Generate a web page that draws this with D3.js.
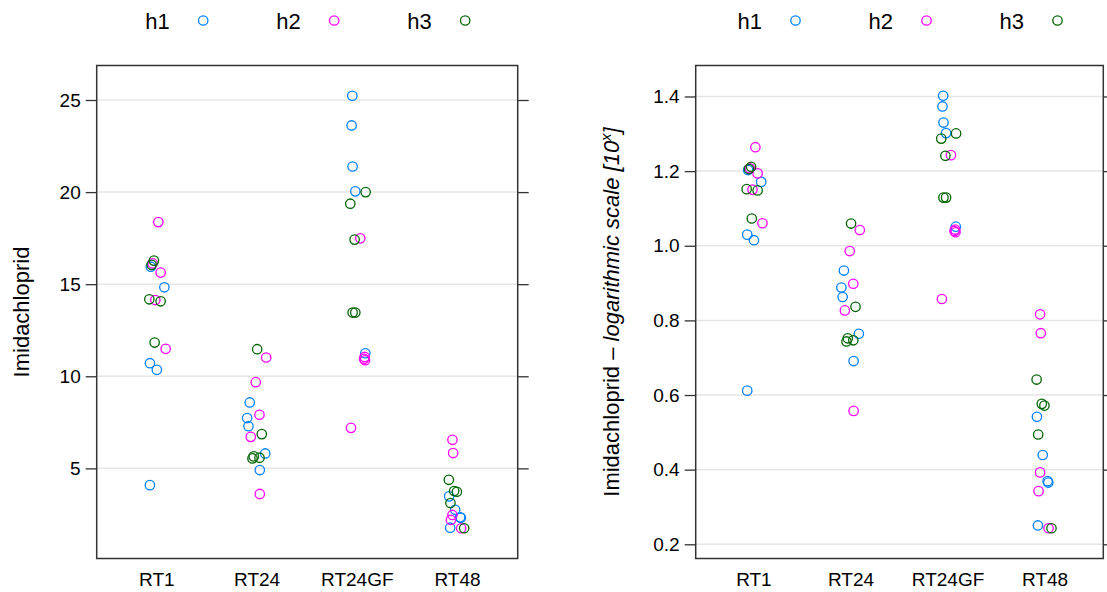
<!doctype html>
<html>
<head>
<meta charset="utf-8">
<title>Imidachloprid strip plots</title>
<script src="https://d3js.org/d3.v7.min.js"></script>
<style>
body { margin: 0; background: #fff; }
text { font-family: "Liberation Sans", Arial, Helvetica, sans-serif; }
</style>
</head>
<body>
<svg width="1107" height="592"></svg>
<script>
// data (right panel shows log10 of the same values)
var categories = ["RT1", "RT24", "RT24GF", "RT48"]
var groups = ["h1", "h2", "h3"]
var colors = ["#0080ff", "#ff00ff", "#006400"]

// one row per category, 5 replicates each
var h1Values = [
    [15.95, 14.83, 10.71, 10.35, 4.09],
    [8.58, 7.73, 7.29, 5.81, 4.91],
    [25.23, 23.62, 21.39, 20.04, 11.25],
    [3.48, 2.75, 2.34, 2.32, 1.78]
]
var h2Values = [
    [18.37, 16.13, 15.63, 14.14, 11.49],
    [11.02, 9.68, 7.91, 6.71, 3.61],
    [17.49, 11.05, 10.95, 10.87, 7.20],
    [6.55, 5.83, 2.47, 2.20, 1.75]
]
var h3Values = [
    [16.28, 16.05, 14.18, 14.07, 11.83],
    [11.47, 6.86, 5.65, 5.58, 5.54],
    [20.0, 19.37, 17.42, 13.46, 13.46],
    [4.38, 3.77, 3.73, 3.12, 1.75]
]

// horizontal jitter, in category units (same in both panels)
var h1Jitter = [
    [-0.06, 0.075, -0.069, 0.0, -0.069],
    [-0.073, -0.099, -0.086, 0.081, 0.027],
    [-0.05, -0.057, -0.047, -0.02, 0.08],
    [-0.084, -0.024, 0.026, 0.033, -0.074]
]
var h2Jitter = [
    [0.015, -0.042, 0.038, -0.015, 0.088],
    [0.091, -0.013, 0.024, -0.063, 0.027],
    [0.03, 0.073, 0.067, 0.077, -0.063],
    [-0.051, -0.044, -0.051, -0.067, 0.036]
]
var h3Jitter = [
    [-0.029, -0.052, -0.075, 0.038, -0.022],
    [0.001, 0.047, -0.033, 0.024, -0.046],
    [0.083, -0.07, -0.027, -0.047, -0.02],
    [-0.087, -0.034, -0.007, -0.071, 0.066]
]

var linearTicks = [5, 10, 15, 20, 25]
var logTicks = [0.2, 0.4, 0.6, 0.8, 1.0, 1.2, 1.4]

var allValues = [h1Values, h2Values, h3Values]
var allJitter = [h1Jitter, h2Jitter, h3Jitter]

var svg = d3.select("svg")
var panel_top = 65.5
var panel_bottom = 558.5
var tick_len = 11

function make_points(transform) {
    var pts = []
    for (var g = 0; g < groups.length; g++) {
        for (var c = 0; c < categories.length; c++) {
            for (var k = 0; k < allValues[g][c].length; k++) {
                pts.push({ group: g, cat: categories[c], v: transform(allValues[g][c][k]), j: allJitter[g][c][k] })
            }
        }
    }
    return pts
}

function panel(x0, x1, points, ticks, fmt) {
    var ext = d3.extent(points, function (d) { return d.v })
    var pad = 0.07 * (ext[1] - ext[0])
    var y = d3.scaleLinear().domain([ext[0] - pad, ext[1] + pad]).range([panel_bottom, panel_top])
    var x = d3.scalePoint().domain(categories).range([x0, x1]).padding(0.6)

    var g = svg.append("g")

    // grid
    g.selectAll(".grid").data(ticks).enter().append("line")
        .attr("x1", x0).attr("x2", x1)
        .attr("y1", function (d) { return y(d) }).attr("y2", function (d) { return y(d) })
        .attr("stroke", "#e6e6e6").attr("stroke-width", 1.5)

    // y axis left with labels, right ticks only
    var left = g.append("g").attr("transform", "translate(" + x0 + ",0)")
        .call(d3.axisLeft(y).tickValues(ticks).tickSize(tick_len).tickPadding(5).tickFormat(fmt))
    var right = g.append("g").attr("transform", "translate(" + x1 + ",0)")
        .call(d3.axisRight(y).tickValues(ticks).tickSize(tick_len).tickFormat(""))
    ;[left, right].forEach(function (a) {
        a.select(".domain").remove()
        a.selectAll("line").attr("stroke", "#333").attr("stroke-width", 1.3)
    })
    left.selectAll("text").attr("font-size", "19px").attr("fill", "#000")
        .attr("font-family", '"Liberation Sans", Arial, sans-serif')

    // category labels
    g.selectAll(".cat").data(categories).enter().append("text")
        .attr("x", function (d) { return x(d) }).attr("y", 586)
        .attr("text-anchor", "middle").attr("font-size", "19px")
        .text(function (d) { return d })

    // box
    g.append("rect")
        .attr("x", x0).attr("y", panel_top)
        .attr("width", x1 - x0).attr("height", panel_bottom - panel_top)
        .attr("fill", "none").attr("stroke", "#333").attr("stroke-width", 1.5)

    // points
    g.selectAll(".pt").data(points).enter().append("circle")
        .attr("cx", function (d) { return x(d.cat) + d.j * x.step() })
        .attr("cy", function (d) { return y(d.v) })
        .attr("r", 4.7)
        .attr("fill", "none")
        .attr("stroke", function (d) { return colors[d.group] })
        .attr("stroke-width", 1.3)

    // legend
    var cx = (x0 + x1) / 2
    var lg = g.selectAll(".key").data(groups).enter().append("g")
        .attr("transform", function (d, i) { return "translate(" + (cx - 162 + i * 131) + ",0)" })
    lg.append("text").attr("x", 0).attr("y", 28.5).attr("font-size", "22px")
        .text(function (d) { return d })
    lg.append("circle").attr("cx", 58).attr("cy", 20.5).attr("r", 4.7)
        .attr("fill", "none").attr("stroke-width", 1.3)
        .attr("stroke", function (d, i) { return colors[i] })
}

panel(96.7, 517.7, make_points(function (v) { return v }), linearTicks, d3.format("d"))
panel(695.7, 1103.3, make_points(function (v) { return Math.log10(v) }), logTicks, d3.format(".1f"))

// y axis titles
svg.append("text")
    .attr("transform", "translate(29," + ((panel_top + panel_bottom) / 2) + ") rotate(-90)")
    .attr("text-anchor", "middle").attr("font-size", "22px")
    .text("Imidachloprid")

var t2 = svg.append("text")
    .attr("transform", "translate(619," + ((panel_top + panel_bottom) / 2) + ") rotate(-90)")
    .attr("text-anchor", "middle").attr("font-size", "22px")
t2.append("tspan").text("Imidachloprid \u2013 ")
t2.append("tspan").attr("font-style", "italic").text("logarithmic scale [10")
t2.append("tspan").attr("font-style", "italic").attr("font-size", "15px").attr("dy", "-8").text("x")
t2.append("tspan").attr("font-style", "italic").attr("dy", "8").text("]")
</script>
</body>
</html>
